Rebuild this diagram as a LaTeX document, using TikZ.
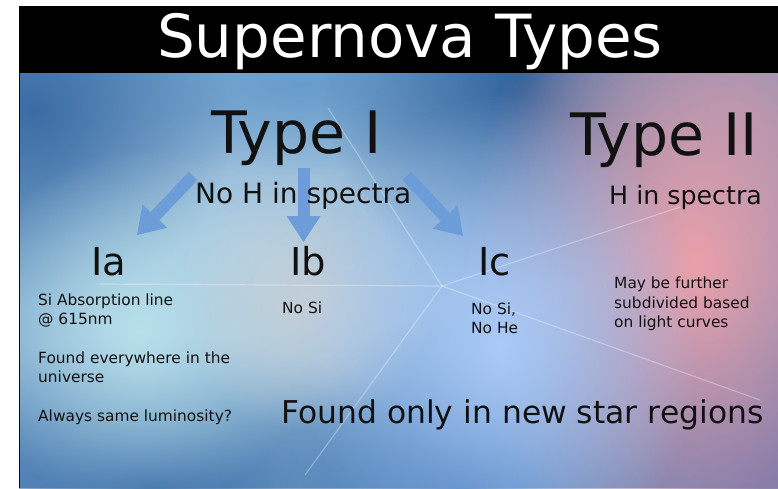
\documentclass[tikz,border=0pt]{standalone}
\usepackage{fontspec}
\setmainfont{DejaVu Sans}
\usetikzlibrary{arrows.meta,fadings}
\tikzfading[name=blobfade, inner color=transparent!0, outer color=transparent!100]
\definecolor{bgbase}{HTML}{5A8BBF}
\definecolor{arrowblue}{HTML}{6C9DD8}
\definecolor{txt}{HTML}{111111}
\definecolor{glow}{HTML}{B0CFE4}
\definecolor{topmid}{RGB}{104,156,204}
\definecolor{darkA}{RGB}{47,96,154}
\definecolor{darkB}{RGB}{58,108,164}
\definecolor{darkC}{RGB}{61,112,170}
\definecolor{darkD}{RGB}{63,117,181}
\definecolor{darkE}{RGB}{101,112,168}
\definecolor{purp}{RGB}{149,144,176}
\definecolor{pinkglow}{RGB}{236,160,170}
\definecolor{cyanglow}{RGB}{184,224,234}
\definecolor{greyglow}{RGB}{196,207,216}
\definecolor{periglow}{RGB}{170,202,248}
\begin{document}
\begin{tikzpicture}[x=1pt,y=-1pt,
  blob/.style={fill=#1, path fading=blobfade},
  titletext/.style={font=\fontsize{59.5}{59.5}\selectfont, text=white, anchor=base, inner sep=0pt},
  typetext/.style={font=\fontsize{58.5}{58.5}\selectfont, text=txt, anchor=base west, inner sep=0pt},
  subtext/.style={font=\fontsize{38.5}{38.5}\selectfont, text=txt, anchor=base west, inner sep=0pt},
  spectext/.style={font=\fontsize{#1}{#1}\selectfont, text=txt, anchor=base west, inner sep=0pt},
  smalltext/.style={font=\fontsize{15.4}{19}\selectfont, text=txt, anchor=base west, inner sep=0pt},
  bigarrow/.style={draw=arrowblue, line width=12pt, -{Triangle[length=26pt,width=34pt,line width=0pt]}},
  ray/.style={draw=white, draw opacity=0.3, line width=1.2pt}]
\useasboundingbox (0,0) rectangle (778,488);
\fill[white] (0,0) rectangle (778,488);
\begin{scope}
  \clip (19,6) rectangle (778,488);
  \fill[bgbase] (19,6) rectangle (778,488);
  \fill[blob=glow] (270,265) circle[radius=440pt];
  \fill[blob=topmid] (300,85) ellipse[x radius=260pt, y radius=90pt];
  \fill[blob=darkA] (530,80) circle[radius=210pt];
  \fill[blob=darkB] (35,110) circle[radius=200pt];
  \fill[blob=darkC] (150,485) ellipse[x radius=300pt, y radius=150pt];
  \fill[blob=darkD] (460,490) circle[radius=180pt];
  \fill[blob=darkE] (770,470) circle[radius=240pt];
  \fill[blob=purp] (745,120) circle[radius=230pt];
  \fill[blob=pinkglow] (695,265) ellipse[x radius=230pt, y radius=330pt];
  \fill[blob=cyanglow] (140,330) circle[radius=180pt];
  \fill[blob=greyglow] (305,300) circle[radius=130pt];
  \fill[blob=periglow] (500,345) ellipse[x radius=200pt, y radius=250pt];
\end{scope}
\draw[black!70!blue, line width=1pt] (19.5,6) -- (19.5,488);
% title bar
\fill[black] (19,6) rectangle (778,73);
\node[titletext] (title) at (410,57) {Supernova Types};
% faint rays
\coordinate (hub) at (442,286);
\coordinate (rayA) at (328,108);
\coordinate (rayB) at (100,284);
\coordinate (rayC) at (305,475);
\coordinate (rayD) at (680,207);
\coordinate (rayE) at (760,400);
\foreach \r in {rayA,rayB,rayC,rayD,rayE} \draw[ray] (hub) -- (\r);
% arrows
\coordinate (aLs) at (193,176);
\coordinate (aLe) at (137,235);
\coordinate (aMs) at (303.5,168);
\coordinate (aMe) at (303.5,242);
\coordinate (aRs) at (407,176);
\coordinate (aRe) at (463,236);
\draw[bigarrow] (aLs) -- (aLe);
\draw[bigarrow] (aMs) -- (aMe);
\draw[bigarrow] (aRs) -- (aRe);
% headings
\node[typetext] (typeI) at (211,153) {Type I};
\node[typetext] (typeII) at (570,155) {Type II};
\node[spectext=28] (noH) at (195,203) {No H in spectra};
\node[spectext=25.3] (yesH) at (609,204) {H in spectra};
\node[subtext] (Ia) at (91,275) {Ia};
\node[subtext] (Ib) at (290,275) {Ib};
\node[subtext] (Ic) at (478,275) {Ic};
% small texts
\node[smalltext] (ia1) at (38,305) {Si Absorption line};
\node[smalltext] (ia2) at (38,324) {@ 615nm};
\node[smalltext] (ia3) at (38,363) {Found everywhere in the};
\node[smalltext] (ia4) at (38,382) {universe};
\node[smalltext] (ia5) at (38,421) {Always same luminosity?};
\node[smalltext] (ib1) at (282,313) {No Si};
\node[smalltext] (ic1) at (471,314) {No Si,};
\node[smalltext] (ic2) at (471,333) {No He};
\node[smalltext] (ii1) at (614,288) {May be further};
\node[smalltext] (ii2) at (614,308) {subdivided based};
\node[smalltext] (ii3) at (614,327) {on light curves};
\node[spectext=31.4] (bottom) at (281,423) {Found only in new star regions};
\end{tikzpicture}
\end{document}
